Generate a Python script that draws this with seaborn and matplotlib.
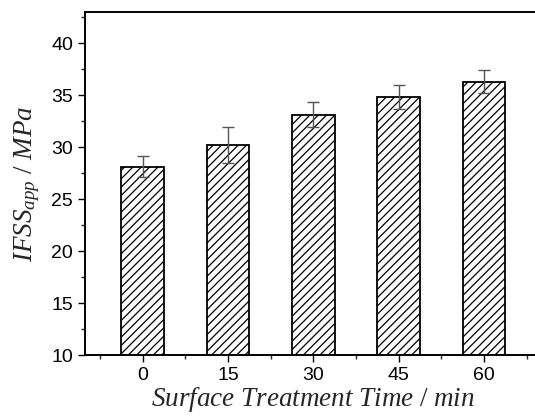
import matplotlib
matplotlib.use("Agg")
import matplotlib.pyplot as plt
from matplotlib.ticker import MultipleLocator, FixedLocator
import seaborn as sns
import pandas as pd
import numpy as np

# Apparent interfacial shear strength vs. surface treatment time
times = ["0", "15", "30", "45", "60"]
ifss = [28.1, 30.2, 33.1, 34.85, 36.3]
ifss_err = [1.0, 1.7, 1.2, 1.15, 1.1]

sns.set_theme(style="ticks")
plt.rcParams["font.family"] = ["Liberation Sans", "DejaVu Sans"]
plt.rcParams["mathtext.fontset"] = "custom"
plt.rcParams["mathtext.it"] = "Liberation Serif:italic"
plt.rcParams["mathtext.rm"] = "Liberation Serif"
plt.rcParams["hatch.linewidth"] = 0.9
plt.rcParams["hatch.color"] = "#222222"

df = pd.DataFrame({"time": times, "ifss": ifss})

fig = plt.figure(figsize=(5.35, 4.16), dpi=100)
ax = fig.add_axes([85 / 535, 1 - 355 / 416, (541.7 - 85) / 535, (355 - 12) / 416])

sns.barplot(data=df, x="time", y="ifss", ax=ax, color="white",
            edgecolor="black", linewidth=1.3, width=0.5, errorbar=None,
            zorder=2)
for bar in ax.patches:
    bar.set_hatch("////")

ax.errorbar(np.arange(len(times)), ifss, yerr=ifss_err, fmt="none",
            ecolor="#555555", elinewidth=1.0, capsize=4, capthick=1.0, zorder=3)

ax.set_xlim(-0.675, len(times) - 1 + 0.675)
ax.set_ylim(10, 43)
ax.yaxis.set_major_locator(MultipleLocator(5))
ax.yaxis.set_minor_locator(MultipleLocator(2.5))
ax.xaxis.set_minor_locator(FixedLocator(np.arange(-0.5, len(times) + 0.5, 1.0)))

for side in ["top", "bottom", "left", "right"]:
    ax.spines[side].set_visible(True)
    ax.spines[side].set_linewidth(1.4)
    ax.spines[side].set_color("black")

ax.tick_params(axis="both", which="major", direction="out", length=5, width=1.0,
               labelsize=14, colors="black", pad=3.5)
ax.tick_params(axis="both", which="minor", direction="out", length=3, width=1.0)
ax.tick_params(top=False, right=False, which="both")

ax.set_xlabel("$Surface\\ Treatment\\ Time\\ /\\ min$", fontsize=19.5, labelpad=1)
ax.set_ylabel("$IFSS_{app}\\ /\\ MPa$", fontsize=19.5, labelpad=7)

fig.savefig("out.png", dpi=100)
